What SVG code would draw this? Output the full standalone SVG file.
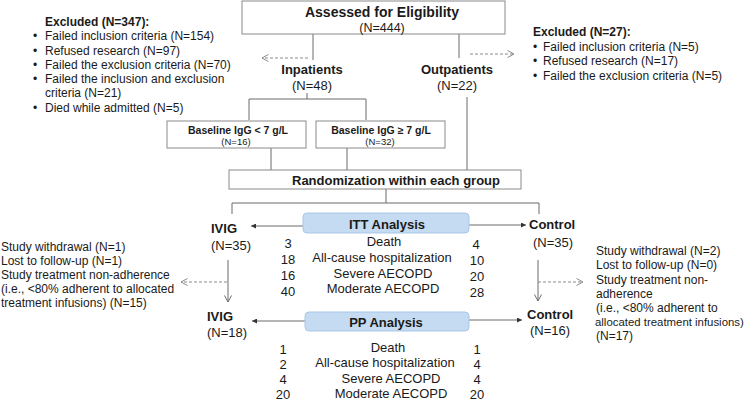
<svg xmlns="http://www.w3.org/2000/svg" width="750" height="403" viewBox="0 0 750 403">
<style>
text{font-family:"Liberation Sans",Arial,sans-serif;fill:#1a1a1a}
.b{font-weight:bold}
.m{text-anchor:middle}
.f13{font-size:13px}
.f12{font-size:12px}
.ln{stroke:#6b6b6b;stroke-width:1;fill:none}
.dash{stroke:#8a8a8a;stroke-width:1;fill:none;stroke-dasharray:3 2}
.box{fill:#fff;stroke:#8a8a8a;stroke-width:1}
.abox{fill:#c4dbf1;stroke:#a9c6e6;stroke-width:1}
</style>
<defs>
<marker id="tri" viewBox="0 0 6 6" refX="6" refY="3" markerWidth="5" markerHeight="5" markerUnits="userSpaceOnUse" orient="auto">
<path d="M0,0 L6,3 L0,6 z" fill="#333"/>
</marker>
<marker id="chev" viewBox="0 0 8 8" refX="7.5" refY="4" markerWidth="8" markerHeight="8" markerUnits="userSpaceOnUse" orient="auto">
<path d="M1,0.5 L7.5,4 L1,7.5" fill="none" stroke="#6b6b6b" stroke-width="1"/>
</marker>
<marker id="chevd" viewBox="0 0 8 8" refX="7.5" refY="4" markerWidth="8" markerHeight="8" markerUnits="userSpaceOnUse" orient="auto">
<path d="M1,0.5 L7.5,4 L1,7.5" fill="none" stroke="#8a8a8a" stroke-width="1"/>
</marker>
</defs>

<g id="connectors">
<path class="ln" d="M313,34 V60"/>
<path class="ln" d="M459,34 V58"/>
<path class="dash" d="M308,58 H262" marker-end="url(#chevd)"/>
<path class="dash" d="M470,54 H514" marker-end="url(#chevd)"/>
<path class="ln" d="M307,93 V99 M249,99 H366 M249,99 V120 M366,99 V120"/>
<path class="ln" d="M271,148 V170 M347,148 V170 M467,97 V170"/>
<path class="ln" d="M386,189 V203 M232,203 H539 M232,203 V214 M539,203 V214"/>
<path class="ln" d="M303,226 H251" marker-end="url(#tri)"/>
<path class="ln" d="M469,225 H526" marker-end="url(#tri)"/>
<path class="ln" d="M228,260 V302" marker-end="url(#chev)"/>
<path class="ln" d="M538,260 V301" marker-end="url(#chev)"/>
<path class="dash" d="M227,282 H181" marker-end="url(#chevd)"/>
<path class="dash" d="M538,282 H583" marker-end="url(#chevd)"/>
<path class="ln" d="M305,321 H252" marker-end="url(#tri)"/>
<path class="ln" d="M469,320 H522" marker-end="url(#tri)"/>
</g>

<g id="assessed">
<rect class="box" x="242" y="1" width="263" height="33"/>
<text class="b m" x="382" y="17" font-size="14">Assessed for Eligibility</text>
<text class="m" x="382" y="31.5" font-size="12.5">(N=444)</text>
</g>

<g id="excluded-left">
<text class="b f12" x="45" y="26">Excluded (N=347):</text>
<g class="f12">
<text x="33" y="40">•</text><text x="45" y="40">Failed inclusion criteria (N=154)</text>
<text x="33" y="55">•</text><text x="45" y="55">Refused research (N=97)</text>
<text x="33" y="69">•</text><text x="45" y="69">Failed the exclusion criteria (N=70)</text>
<text x="33" y="83">•</text><text x="45" y="83">Failed the inclusion and exclusion</text>
<text x="45" y="97">criteria (N=21)</text>
<text x="33" y="112">•</text><text x="45" y="112">Died while admitted (N=5)</text>
</g>
</g>

<g id="excluded-right">
<text class="b f12" x="533" y="36">Excluded (N=27):</text>
<g class="f12">
<text x="533" y="51">•</text><text x="543" y="51">Failed inclusion criteria (N=5)</text>
<text x="533" y="65">•</text><text x="543" y="65">Refused research (N=17)</text>
<text x="533" y="80">•</text><text x="543" y="80">Failed the exclusion criteria (N=5)</text>
</g>
</g>

<g id="inpatients">
<text class="b m f13" x="312" y="74">Inpatients</text>
<text class="m f13" x="312" y="90">(N=48)</text>
</g>

<g id="outpatients">
<text class="b m f13" x="457" y="74">Outpatients</text>
<text class="m f13" x="457" y="90">(N=22)</text>
</g>

<g id="igg-low">
<rect class="box" x="167" y="121" width="139" height="27"/>
<text class="b m" x="238" y="134" font-size="10.5">Baseline IgG &lt; 7 g/L</text>
<text class="m" x="236" y="145" font-size="9.5">(N=16)</text>
</g>

<g id="igg-high">
<rect class="box" x="316" y="121" width="129" height="27"/>
<text class="b m" x="381" y="134" font-size="10.5">Baseline IgG ≥ 7 g/L</text>
<text class="m" x="380" y="145" font-size="9.5">(N=32)</text>
</g>

<g id="randomization">
<rect class="box" x="229" y="170" width="292" height="19"/>
<text class="b m f13" x="396" y="185">Randomization within each group</text>
</g>

<g id="ivig-itt">
<text class="b f13" x="211" y="233">IVIG</text>
<text class="f13" x="211" y="250">(N=35)</text>
</g>

<g id="control-itt">
<text class="b f13" x="529" y="229">Control</text>
<text class="f13" x="533" y="247">(N=35)</text>
</g>

<g id="itt-analysis">
<rect class="abox" x="303" y="213" width="166" height="20" rx="4"/>
<text class="b m f13" x="387" y="229">ITT Analysis</text>
<g class="m f13">
<text x="288" y="248">3</text><text x="384" y="246">Death</text><text x="476" y="249">4</text>
<text x="288" y="264">18</text><text x="382" y="262">All-cause hospitalization</text><text x="477" y="265">10</text>
<text x="288" y="280">16</text><text x="383" y="278">Severe AECOPD</text><text x="477" y="281">20</text>
<text x="288" y="296">40</text><text x="383" y="293">Moderate AECOPD</text><text x="477" y="297">28</text>
</g>
</g>

<g id="withdraw-ivig">
<g class="f12">
<text x="1" y="251">Study withdrawal (N=1)</text>
<text x="1" y="265">Lost to follow-up (N=1)</text>
<text x="1" y="279">Study treatment non-adherence</text>
<text x="1" y="293">(i.e., &lt;80% adherent to allocated</text>
<text x="1" y="307">treatment infusions) (N=15)</text>
</g>
</g>

<g id="withdraw-control">
<g class="f12">
<text x="596" y="255">Study withdrawal (N=2)</text>
<text x="596" y="269">Lost to follow-up (N=0)</text>
<text x="596" y="284">Study treatment non-</text>
<text x="596" y="298">adherence</text>
<text x="596" y="312">(i.e., &lt;80% adherent to</text>
<text x="595" y="326" font-size="11.4">allocated  treatment infusions)</text>
<text x="596" y="340">(N=17)</text>
</g>
</g>

<g id="ivig-pp">
<text class="b f13" x="207" y="321">IVIG</text>
<text class="f13" x="207" y="337">(N=18)</text>
</g>

<g id="control-pp">
<text class="b f13" x="527" y="319">Control</text>
<text class="f13" x="530" y="335">(N=16)</text>
</g>

<g id="pp-analysis">
<rect class="abox" x="305" y="312" width="164" height="19" rx="4"/>
<text class="b m f13" x="386" y="327">PP Analysis</text>
<g class="m f13">
<text x="283" y="354">1</text><text x="388" y="352">Death</text><text x="477" y="354">1</text>
<text x="283" y="369">2</text><text x="385" y="367">All-cause hospitalization</text><text x="477" y="369">4</text>
<text x="283" y="384">4</text><text x="391" y="383">Severe AECOPD</text><text x="477" y="384">4</text>
<text x="283" y="399">20</text><text x="391" y="398">Moderate AECOPD</text><text x="477" y="399">20</text>
</g>
</g>
</svg>
